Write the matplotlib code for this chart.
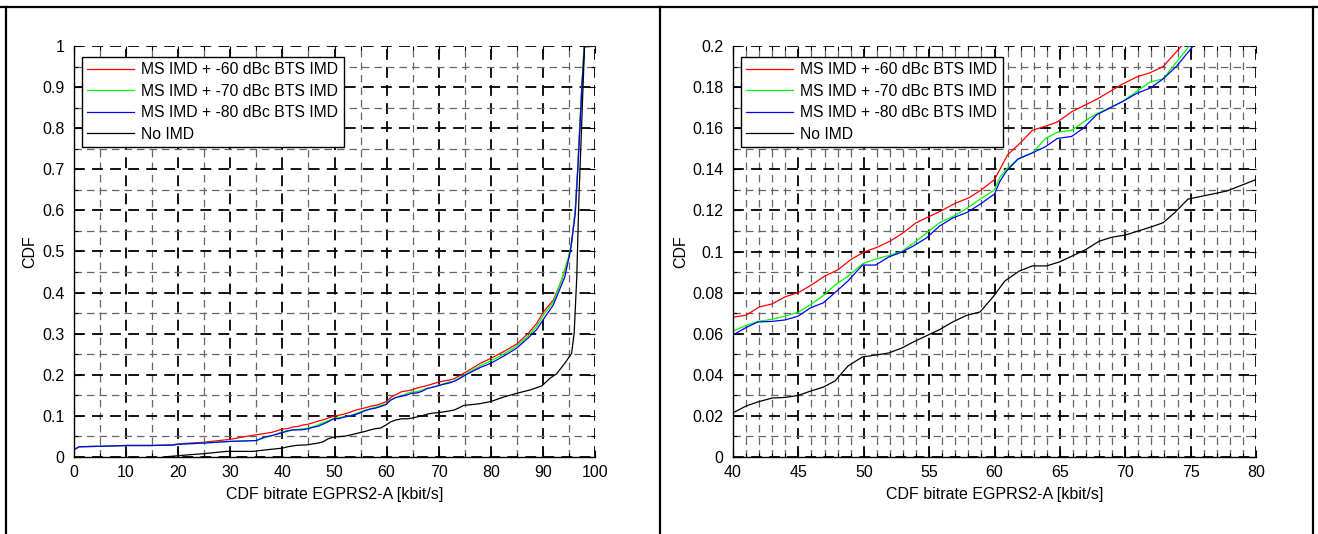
import matplotlib
matplotlib.use("Agg")
import matplotlib.pyplot as plt
from matplotlib.lines import Line2D
from matplotlib.ticker import MultipleLocator, FuncFormatter

plt.rcParams['font.family'] = ['Liberation Sans', 'DejaVu Sans']

labels = ["MS IMD + -60 dBc BTS IMD", "MS IMD + -70 dBc BTS IMD",
          "MS IMD + -80 dBc BTS IMD", "No IMD"]
colors = ["#ff0000", "#00ff00", "#0000ff", "#000000"]

# CDF curves (x = bitrate kbit/s, y = CDF)
x60 = [0, 1, 5, 10, 15, 19, 20, 25, 30, 33, 35, 38, 40, 41, 42, 43, 44, 45, 46, 47, 48, 49,
       50, 51, 52, 53, 54, 55, 56, 57, 58, 59, 60, 60.5, 61, 62, 62.9, 63.9, 64.8, 65.9, 67.8,
       69.8, 70.9, 71.9, 72.9, 74.3, 75, 78, 80, 82.4, 85, 87.2, 88.8, 90.1, 92, 93.6, 94.9,
       95.5, 96.2, 96.7, 97.1, 97.5, 97.9, 100]
y60 = [0.018, 0.025, 0.026, 0.028, 0.028, 0.030, 0.032, 0.036, 0.043, 0.050, 0.054, 0.060,
       0.068, 0.069, 0.073, 0.0745, 0.078, 0.080, 0.0837, 0.088, 0.091, 0.096, 0.0997, 0.102,
       0.105, 0.109, 0.114, 0.117, 0.120, 0.1235, 0.126, 0.130, 0.135, 0.141, 0.147, 0.153,
       0.159, 0.161, 0.163, 0.168, 0.174, 0.1815, 0.185, 0.187, 0.190, 0.200, 0.205, 0.228,
       0.240, 0.256, 0.275, 0.301, 0.325, 0.353, 0.382, 0.430, 0.483, 0.52, 0.60, 0.705, 0.81,
       0.908, 0.997, 1.0]

x70 = [0, 1, 5, 10, 15, 19, 20, 25, 30, 35, 36, 38, 40, 41, 41.9, 43, 44, 45, 45.9, 46.9,
       47.8, 48.8, 49.9, 50.9, 51.9, 52.9, 53.8, 54.8, 55.8, 56.8, 57.9, 58.9, 60, 60.4, 60.9,
       61.8, 62.9, 63.9, 64.8, 65.9, 66.8, 67.8, 69.8, 70.9, 71.9, 72.9, 73.9, 74.9, 78, 80,
       82.4, 85, 87.2, 88.8, 90.1, 92, 93.6, 94.9, 95.5, 96.2, 96.7, 97.1, 97.5, 97.9, 100]
y70 = [0.018, 0.025, 0.026, 0.028, 0.028, 0.029, 0.031, 0.034, 0.038, 0.040, 0.044, 0.052,
       0.0613, 0.064, 0.066, 0.067, 0.0686, 0.0705, 0.074, 0.0785, 0.0837, 0.088, 0.094,
       0.0963, 0.098, 0.100, 0.104, 0.109, 0.114, 0.117, 0.121, 0.1255, 0.130, 0.136, 0.140,
       0.145, 0.148, 0.155, 0.158, 0.159, 0.163, 0.167, 0.173, 0.178, 0.1825, 0.184, 0.192,
       0.200, 0.222, 0.234, 0.250, 0.270, 0.295, 0.318, 0.345, 0.377, 0.432, 0.485, 0.52,
       0.60, 0.705, 0.81, 0.908, 0.997, 1.0]

x80 = [0, 1, 5, 10, 15, 19, 20, 25, 30, 35, 36.5, 38, 40, 41, 41.9, 43, 44, 45, 45.9, 46.9,
       47.8, 48.8, 49.9, 50.9, 51.9, 52.9, 53.8, 54.8, 55.8, 56.8, 57.9, 58.9, 60, 60.4, 60.9,
       61.8, 62.9, 63.9, 64.8, 65.9, 66.8, 67.8, 69.8, 70.9, 71.9, 72.9, 73.9, 75.2, 78, 80,
       82.4, 85, 87.2, 88.8, 90.1, 92, 94.2, 95.3, 96.2, 96.7, 97.1, 97.5, 98, 100]
y80 = [0.018, 0.025, 0.026, 0.028, 0.028, 0.029, 0.031, 0.034, 0.038, 0.040, 0.0485, 0.052,
       0.0594, 0.063, 0.0657, 0.066, 0.0667, 0.0686, 0.0725, 0.075, 0.080, 0.0857, 0.0934,
       0.0934, 0.0973, 0.0997, 0.1027, 0.1066, 0.1124, 0.1163, 0.119, 0.123, 0.128, 0.134,
       0.139, 0.145, 0.148, 0.151, 0.155, 0.156, 0.160, 0.1665, 0.173, 0.177, 0.1795, 0.184,
       0.190, 0.200, 0.218, 0.228, 0.245, 0.265, 0.290, 0.310, 0.335, 0.370, 0.438, 0.503,
       0.59, 0.70, 0.80, 0.905, 1.0, 1.0]

xno = [17.1, 22.3, 24.8, 29.3, 34.4, 37, 40, 41, 41.9, 43, 44, 45, 45.9, 46.9, 47.8, 48.8,
       49.9, 50.9, 51.9, 52.9, 53.8, 54.8, 55.8, 56.8, 57.9, 58.9, 59.9, 60.8, 61.9, 62.9, 64,
       65, 66, 67, 68, 69, 70, 71, 72, 72.9, 73.8, 74.8, 76.7, 77.8, 78.8, 80, 82.4, 85, 87.5,
       89.8, 91.4, 92.6, 94.2, 95.5, 96, 96.5, 96.9, 97.3, 97.7, 98, 100]
yno = [0, 0.0056, 0.008, 0.0137, 0.0137, 0.0177, 0.0215, 0.0248, 0.0268, 0.0287, 0.029,
       0.030, 0.032, 0.034, 0.037, 0.0443, 0.0487, 0.0496, 0.0506, 0.053, 0.056, 0.059, 0.062,
       0.0657, 0.069, 0.0706, 0.078, 0.0857, 0.0905, 0.093, 0.093, 0.095, 0.098, 0.101, 0.105,
       0.107, 0.108, 0.110, 0.112, 0.114, 0.119, 0.1255, 0.128, 0.1295, 0.132, 0.135, 0.1456,
       0.155, 0.163, 0.173, 0.192, 0.202, 0.228, 0.252, 0.301, 0.438, 0.625, 0.76, 0.90, 1.0,
       1.0]

series = [(x60, y60), (x70, y70), (x80, y80), (xno, yno)]

W, H = 1318, 534
fig = plt.figure(figsize=(W / 100, H / 100), dpi=100, facecolor='white')

# table-like frame around the two figures
def fline(x0, y0, x1, y1):
    fig.add_artist(Line2D([x0 / W, x1 / W], [1 - y0 / H, 1 - y1 / H],
                          transform=fig.transFigure, color='black', lw=1.6))

fline(0, 7, W, 7)
fline(6, 7, 6, H)
fline(660, 7, 660, H)
fline(1313, 7, 1313, H)


def setup(ax, xlim, ylim, xmaj, xmin, ymaj, ymin):
    ax.set_xlim(*xlim)
    ax.set_ylim(*ylim)
    ax.xaxis.set_major_locator(MultipleLocator(xmaj))
    ax.xaxis.set_minor_locator(MultipleLocator(xmin))
    ax.yaxis.set_major_locator(MultipleLocator(ymaj))
    ax.yaxis.set_minor_locator(MultipleLocator(ymin))
    fmt = FuncFormatter(lambda v, p: ('%g' % round(v, 6)))
    ax.xaxis.set_major_formatter(fmt)
    ax.yaxis.set_major_formatter(fmt)
    ax.grid(True, which='major', color='black', lw=1.3, linestyle=(0, (6, 4)))
    ax.grid(True, which='minor', color='0.4', lw=0.9, linestyle=(0, (6, 4)))
    ax.tick_params(which='both', direction='in', top=True, right=True, labelsize=11.5,
                   width=0.8)
    ax.tick_params(which='major', length=5)
    ax.tick_params(which='minor', length=3)
    ax.tick_params(axis='x', which='major', pad=6)
    ax.tick_params(axis='y', which='major', pad=7)
    ax.spines['top'].set_visible(False)
    ax.spines['right'].set_visible(False)
    for s in ['left', 'bottom']:
        ax.spines[s].set_linewidth(1.0)
    ax.set_axisbelow(True)
    for (xs, ys), c, lab in zip(series, colors, labels):
        ax.plot(xs, ys, color=c, lw=0.9, label=lab)
    ax.set_xlabel("CDF bitrate EGPRS2-A [kbit/s]", fontsize=11.5, labelpad=5)
    ax.set_ylabel("CDF", fontsize=11.5, labelpad=3)
    leg = ax.legend(loc='upper left', bbox_to_anchor=(0.015, 0.974), borderaxespad=0,
                    fontsize=11.3, fancybox=False, framealpha=1, edgecolor='black',
                    handlelength=3.0, handletextpad=0.45, labelspacing=0.42,
                    borderpad=0.35)
    leg.get_frame().set_linewidth(1.0)


ax1 = fig.add_axes([74 / W, 1 - 457 / H, 521 / W, 411 / H])
setup(ax1, (0, 100), (0, 1), 10, 5, 0.1, 0.05)

ax2 = fig.add_axes([733 / W, 1 - 457 / H, 523 / W, 411 / H])
setup(ax2, (40, 80), (0, 0.2), 5, 1, 0.02, 0.01)

fig.savefig("out.png", dpi=100, facecolor='white')
